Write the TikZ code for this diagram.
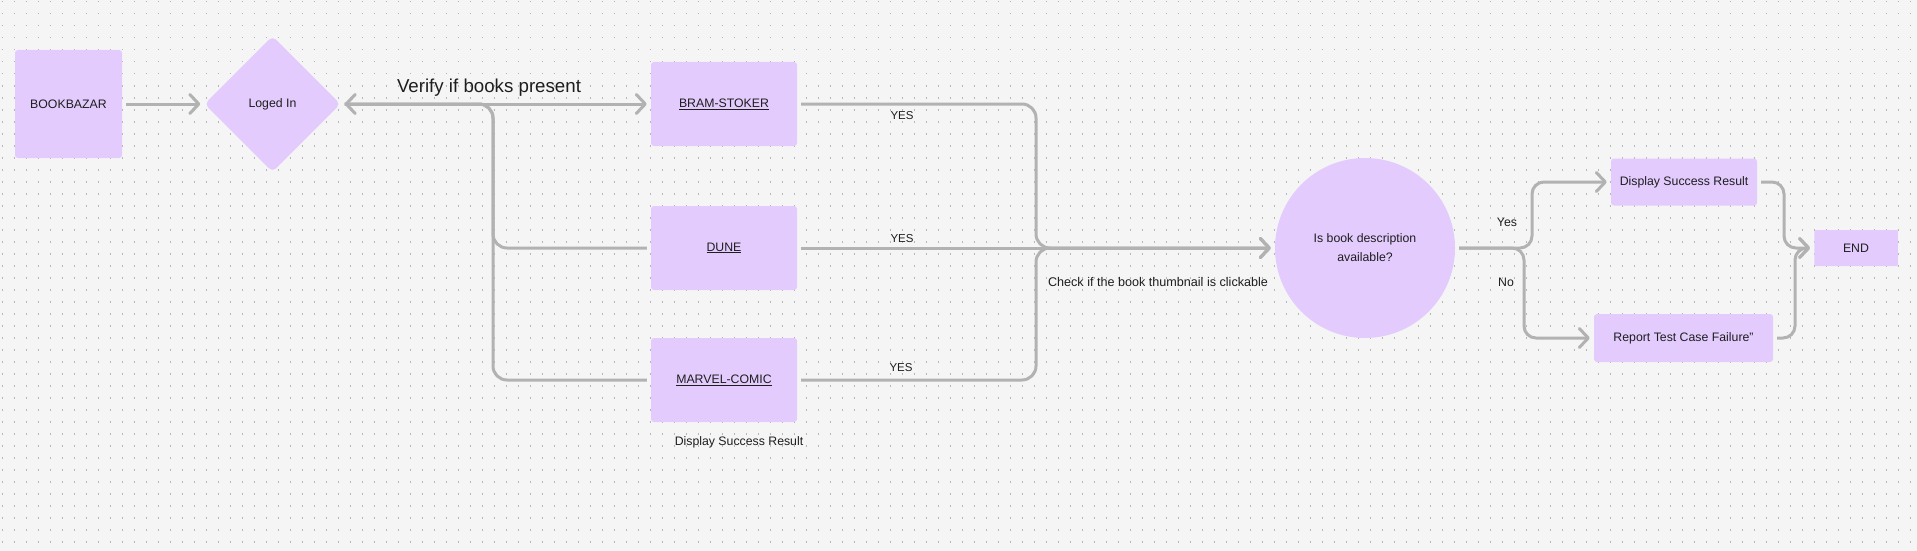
\documentclass[tikz,border=0pt]{standalone}
\usepackage{fontspec}
\setmainfont{Liberation Sans}
\usetikzlibrary{arrows.meta,shapes.geometric}
\definecolor{bg}{RGB}{245,245,245}
\definecolor{dotc}{RGB}{182,182,182}
\definecolor{lav}{RGB}{227,204,253}
\definecolor{ln}{RGB}{178,178,178}
\definecolor{txt}{RGB}{30,30,30}
\newcommand{\fs}[1]{\fontsize{#1}{#1}\selectfont}
\begin{document}
\begin{tikzpicture}[x=1pt,y=-1pt,
  box/.style={fill=lav, rounded corners=3pt, inner sep=0pt, text=txt, font=\fs{12.3}, align=center},
  line/.style={draw=ln, line width=3pt, shorten <=4pt, shorten >=4pt},
  conn/.style={line, -{Straight Barb[length=9pt,width=19pt,round]}},
  lbl/.style={text=txt, font=\fs{12.3}, inner sep=0pt}]
\fill[bg] (0,0) rectangle (1917,551);
\useasboundingbox (0,0) rectangle (1917,551);
\foreach \j in {0,...,45}
  \draw[dotc, line width=1.6pt, dash pattern=on 1.6pt off 10.4pt] ({1.7},{1.7+12*\j}) -- ({1917},{1.7+12*\j});

% nodes
\node[box, minimum width=107pt, minimum height=108pt] (bb) at (68.5,104) {BOOKBAZAR};
\node[box, diamond, aspect=1, rounded corners=5pt, minimum width=136pt, minimum height=136pt] (login) at (272.5,104) {Loged In};
\node[box, minimum width=146pt, minimum height=84pt] (bram) at (724,104) {\underline{BRAM-STOKER}};
\node[box, minimum width=146pt, minimum height=84pt] (dune) at (724,248) {\underline{DUNE}};
\node[box, minimum width=146pt, minimum height=84pt] (marvel) at (724,380) {\underline{MARVEL-COMIC}};
\node[box, circle, minimum size=180pt, font=\fontsize{12.3}{19}\selectfont] (desc) at (1365,248) {Is book description\\available?};
\node[box, minimum width=146pt, minimum height=47pt] (disp) at (1684,182) {Display Success Result};
\node[box, minimum width=179pt, minimum height=48pt] (rep) at (1683.5,338) {Report Test Case Failure\symbol{34}};
\node[box, rounded corners=1pt, minimum width=83.5pt, minimum height=36pt] (end) at (1856,248) {END};

% labels
\node[lbl, font=\fs{18.7}] (verify) at (489,88) {Verify if books present};
\node[lbl, font=\fs{11.5}] (yes1) at (902,116) {YES};
\node[lbl, font=\fs{11.5}] (yes2) at (902,239) {YES};
\node[lbl, font=\fs{11.5}] (yes3) at (901,368) {YES};
\node[lbl, font=\fs{12.6}] (check) at (1158,282) {Check if the book thumbnail is clickable};
\node[lbl] (dsr) at (739,442) {Display Success Result};
\node[lbl] (yes4) at (1507,222) {Yes};
\node[lbl] (no) at (1506,282) {No};

% junction coordinates
\coordinate (j1) at (493,104);
\coordinate (j2) at (1036,248);
\coordinate (ju) at (1532,248);
\coordinate (jd) at (1524,248);
\coordinate (k1) at (1784,248);
\coordinate (k2) at (1795,248);

% connectors
\draw[conn] (bb.east) -- (login.west);
\draw[line, {Straight Barb[length=9pt,width=19pt,round]}-{Straight Barb[length=9pt,width=19pt,round]}] (login.east) -- (bram.west);
\draw[line, rounded corners=14pt] (login.east) -- (j1) |- (dune.west);
\draw[line, rounded corners=14pt] (login.east) -- (j1) |- (marvel.west);
\draw[conn, rounded corners=14pt] (bram.east) -| (j2) -- (desc.west);
\draw[conn] (dune.east) -- (desc.west);
\draw[conn, rounded corners=14pt] (marvel.east) -| (j2) -- (desc.west);
\draw[conn, rounded corners=12pt] (desc.east) -- (ju) |- (disp.west);
\draw[conn, rounded corners=12pt] (desc.east) -- (jd) |- (rep.west);
\draw[conn, rounded corners=12pt] (disp.east) -| (k1) -- (end.west);
\draw[conn, rounded corners=12pt] (rep.east) -| (k2) -- (end.west);
\end{tikzpicture}
\end{document}
